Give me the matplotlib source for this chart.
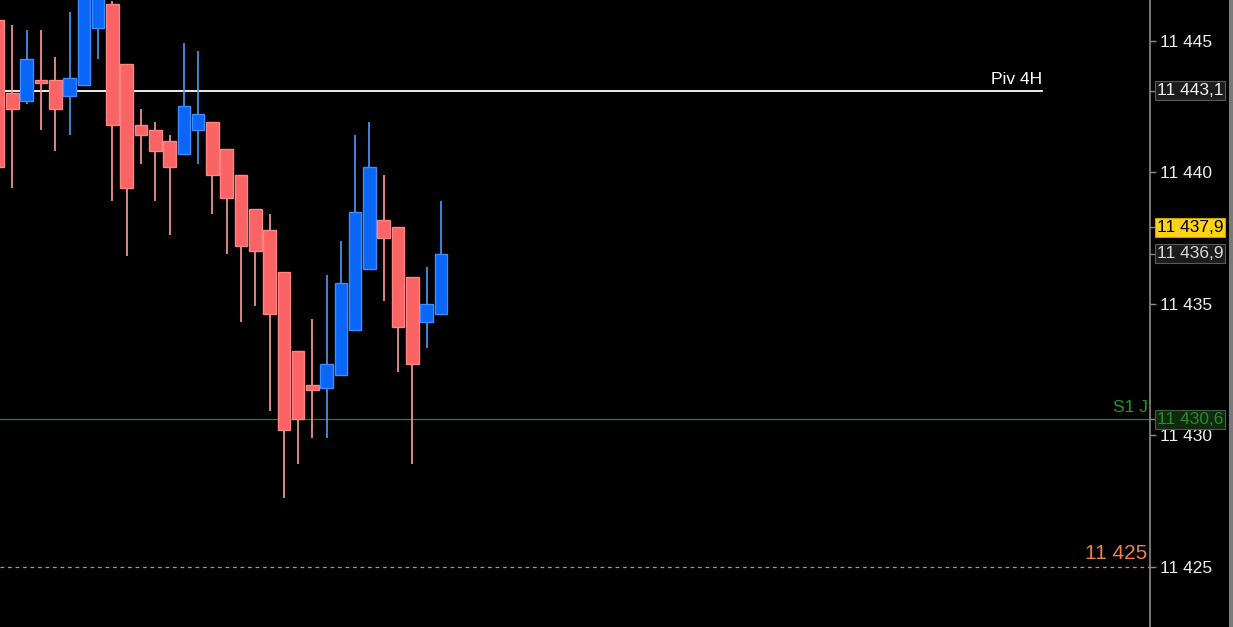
import matplotlib
matplotlib.use("Agg")
import matplotlib.pyplot as plt
import matplotlib.transforms as mtransforms
from matplotlib.patches import Rectangle
from matplotlib.ticker import FuncFormatter

# candles, left to right (open, high, low, close)
opens  = [11445.8, 11443.0, 11442.7, 11443.5, 11443.5, 11442.9, 11443.3, 11445.5,
          11446.4, 11444.1, 11441.8, 11441.6, 11441.2, 11440.7, 11441.6, 11441.9,
          11440.9, 11439.9, 11438.6, 11437.8, 11436.2, 11433.2, 11431.9, 11431.8,
          11432.3, 11434.0, 11436.3, 11438.2, 11437.9, 11436.0, 11434.3, 11434.6]
highs  = [11446.2, 11445.6, 11445.4, 11445.4, 11444.4, 11446.1, 11447.5, 11447.3,
          11446.5, 11444.1, 11442.4, 11441.9, 11441.4, 11444.9, 11444.6, 11441.9,
          11440.9, 11439.9, 11438.6, 11438.4, 11436.2, 11433.2, 11434.4, 11436.1,
          11437.4, 11441.4, 11441.9, 11439.9, 11437.9, 11436.0, 11436.4, 11438.9]
lows   = [11440.2, 11439.4, 11442.6, 11441.6, 11440.8, 11441.4, 11443.3, 11444.3,
          11438.9, 11436.8, 11440.3, 11438.9, 11437.6, 11440.7, 11440.3, 11438.4,
          11436.9, 11434.3, 11434.9, 11430.9, 11427.6, 11428.9, 11429.9, 11429.9,
          11432.3, 11434.0, 11436.3, 11435.1, 11432.4, 11428.9, 11433.3, 11434.6]
closes = [11440.2, 11442.4, 11444.3, 11443.4, 11442.4, 11443.6, 11447.2, 11447.0,
          11441.8, 11439.4, 11441.4, 11440.8, 11440.2, 11442.5, 11442.2, 11439.9,
          11439.0, 11437.2, 11437.0, 11434.6, 11430.2, 11430.6, 11431.7, 11432.7,
          11435.8, 11438.5, 11440.2, 11437.5, 11434.1, 11432.7, 11435.0, 11436.9]

yticks = [11425, 11430, 11435, 11440, 11445]
piv_4h = 11443.1
s1_j = 11430.6
level_11425 = 11425
last_price = 11437.9
other_price = 11436.9

W, H = 1233, 627
fig = plt.figure(figsize=(W / 100, H / 100), dpi=100, facecolor="black")
ax = fig.add_axes([0, 0, 1150 / W, 1])
ax.set_facecolor("black")

up_body, up_edge, up_wick = "#0a66f7", "#3d8cff", "#4a9bff"
dn_body, dn_edge, dn_wick = "#fa6464", "#ff8585", "#ff9c9c"

for i in range(len(opens)):
    o, h, l, c = opens[i], highs[i], lows[i], closes[i]
    up = c >= o
    body, edge, wick = (up_body, up_edge, up_wick) if up else (dn_body, dn_edge, dn_wick)
    lo, hi = min(o, c), max(o, c)
    ax.vlines(i, l, lo, color=wick, lw=1.2, zorder=2)
    ax.vlines(i, hi, h, color=wick, lw=1.2, zorder=2)
    ax.bar(i, max(hi - lo, 0.08), bottom=lo, width=0.88, color=body,
           edgecolor=edge, linewidth=1.0, zorder=3)

step = 14.28
xmin = 1.8 / step
ax.set_xlim(xmin, xmin + 1150 / step)
ax.set_ylim(11422.70, 11446.55)

# horizontal levels
ax.axhline(piv_4h, xmin=0, xmax=1042 / 1150, color="white", lw=1.3, zorder=1)
ax.axhline(s1_j, color="#1f8a1f", lw=0.9, zorder=1)
ax.axhline(level_11425, color="#e8804a", lw=0.9, ls=(0, (3, 3)), zorder=1)

tr = mtransforms.blended_transform_factory(ax.transAxes, ax.transData)
ax.text(1042 / 1150, piv_4h + 0.15, "Piv 4H", transform=tr, ha="right", va="bottom",
        color="white", fontsize=12.5, family="Liberation Sans")
ax.text(0.998, s1_j + 0.15, "S1 J", transform=tr, ha="right", va="bottom",
        color="#1f9a1f", fontsize=12.5, family="Liberation Sans")
ax.text(0.998, level_11425 + 0.12, "11 425", transform=tr, ha="right", va="bottom",
        color="#f0804a", fontsize=15, family="Liberation Sans")

# right price axis
for s in ["top", "left", "bottom"]:
    ax.spines[s].set_visible(False)
ax.spines["right"].set_color("#8a8a8a")
ax.spines["right"].set_linewidth(1.2)
ax.set_xticks([])
ax.yaxis.tick_right()
ax.set_yticks(yticks)
ax.yaxis.set_major_formatter(FuncFormatter(lambda v, p: f"{int(v):,}".replace(",", " ")))
ax.tick_params(axis="y", colors="#8a8a8a", labelcolor="#ededed", length=4, width=1,
               pad=3, labelsize=12.5)
for lbl in ax.get_yticklabels():
    lbl.set_family("Liberation Sans")

def fmt(v):
    s = f"{v:,.1f}".replace(",", " ").replace(".", ",")
    return s

boxes = [
    (piv_4h, "#1c1c1c", "#5a5a5a", "#f0f0f0"),
    (last_price, "#ffd21a", "#c9a000", "black"),
    (other_price, "#1c1c1c", "#5a5a5a", "#d8d8d8"),
    (s1_j, "#0f2a0f", "#4a5a4a", "#2a8a2a"),
]
for val, bg, ec, fc in boxes:
    ax.plot([1.0, 1.0035], [val, val], transform=tr, color="#8a8a8a", lw=1,
            clip_on=False)
    ax.text(1.0062, val, fmt(val), transform=tr, ha="left", va="center", color=fc,
            fontsize=12.5, family="Liberation Sans", clip_on=False,
            bbox=dict(boxstyle="square,pad=0.1", facecolor=bg, edgecolor=ec, lw=0.8))

fig.patches.append(Rectangle((1229 / W, 0), 4 / W, 1, transform=fig.transFigure,
                             facecolor="#7a7a7a", edgecolor="none"))

fig.savefig("out.png", dpi=100, facecolor="black")
